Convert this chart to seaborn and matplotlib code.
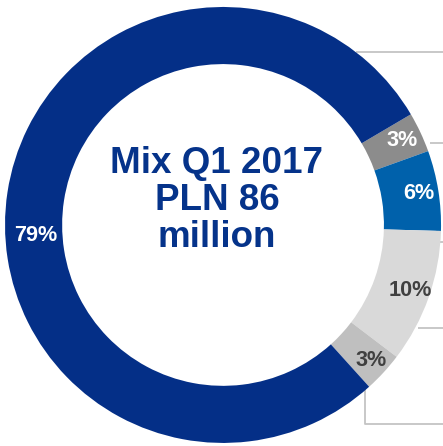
import numpy as np
import matplotlib
matplotlib.use("Agg")
import matplotlib.pyplot as plt
import seaborn as sns

sns.set_theme(style="white")
plt.rcParams["font.family"] = ["Liberation Sans", "DejaVu Sans"]

# Revenue mix, Q1 2017 (share of PLN 86 million, %)
segments = ["Segment A", "Segment B", "Segment C", "Segment D", "Segment E"]
shares = [3, 6, 10, 3, 79]
labels = ["3%", "6%", "10%", "3%", "79%"]
title_lines = ["Mix Q1 2017", "PLN 86", "million"]

colors = ["#8C8C8C", "#0061AB", "#D9D9D9", "#BFBFBF", "#042F87"]
text_colors = ["white", "white", "#404040", "#404040", "white"]
label_radius = [0.91, 0.91, 0.91, 0.92, 0.86]
label_shift = [0, 0, 0, 0, 12]  # degrees, moves the big label off the wedge centre

fig = plt.figure(figsize=(4.43, 4.46), dpi=100)
ax = fig.add_axes([0, 0, 1, 1])

wedges, _ = ax.pie(
    shares,
    colors=colors,
    startangle=30.5,
    counterclock=False,
    radius=1.0,
    wedgeprops=dict(width=0.262, linewidth=0),
)

for w, lab, tc, r, sh in zip(wedges, labels, text_colors, label_radius, label_shift):
    mid = np.deg2rad((w.theta1 + w.theta2) / 2 + sh)
    ax.text(r * np.cos(mid), r * np.sin(mid), lab, ha="center", va="center",
            fontsize=15.6, fontweight="bold", color=tc)

ax.text(-0.028, 0.112, "\n".join(title_lines), ha="center", va="center",
        fontsize=26.5, fontweight="bold", color="#05338A", linespacing=1.08)

# Leader lines running from the ring out to the legend on the right
xmax = 1.009
line_kw = dict(color="#C4C4C4", lw=1.3, solid_capstyle="butt", zorder=0)
# (angle in degrees, start radius, drop before turning right)
leaders = [
    (52.4, 1.0, 0.0),
    (21.6, 1.021, 0.0),
    (3.2, 0.982, 0.133),
    (-27.8, 1.011, 0.0),
    (-48.1, 0.974, 0.188),
]
for ang_deg, r, drop in leaders:
    ang = np.deg2rad(ang_deg)
    x0, y0 = r * np.cos(ang), r * np.sin(ang)
    if drop:
        ax.plot([x0, x0, xmax + 0.05], [y0, y0 - drop, y0 - drop], **line_kw)
    else:
        ax.plot([x0, xmax + 0.05], [y0, y0], **line_kw)

ax.set_aspect("auto")
ax.set_xlim(-1.023, xmax)
ax.set_ylim(-1.014, 1.032)
ax.axis("off")

fig.savefig("out.png", dpi=100)
